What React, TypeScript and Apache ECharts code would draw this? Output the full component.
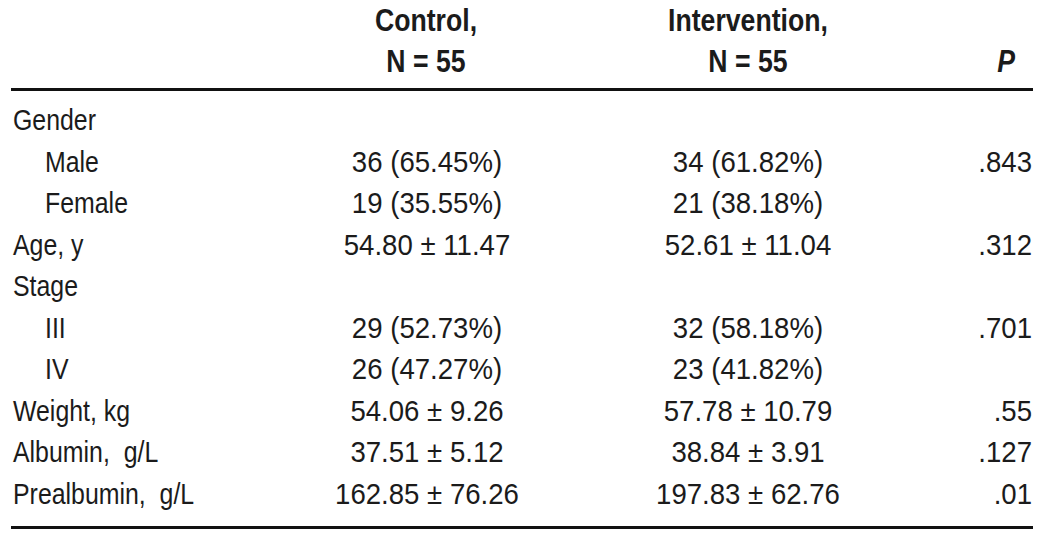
import React, { useEffect, useRef } from "react";
import * as echarts from "echarts";

// ---- Data ----
const rowLabels = [
  "Gender",
  "Male",
  "Female",
  "Age, y",
  "Stage",
  "III",
  "IV",
  "Weight, kg",
  "Albumin,\u00a0 g/L",
  "Prealbumin,\u00a0 g/L",
];
const rowIndented = [false, true, true, false, false, true, true, false, false, false];
const controlValues = [
  "",
  "36 (65.45%)",
  "19 (35.55%)",
  "54.80 ± 11.47",
  "",
  "29 (52.73%)",
  "26 (47.27%)",
  "54.06 ± 9.26",
  "37.51 ± 5.12",
  "162.85 ± 76.26",
];
const interventionValues = [
  "",
  "34 (61.82%)",
  "21 (38.18%)",
  "52.61 ± 11.04",
  "",
  "32 (58.18%)",
  "23 (41.82%)",
  "57.78 ± 10.79",
  "38.84 ± 3.91",
  "197.83 ± 62.76",
];
const pValues = ["", ".843", "", ".312", "", ".701", "", ".55", ".127", ".01"];
const headerControl = ["Control,", "N = 55"];
const headerIntervention = ["Intervention,", "N = 55"];
const headerP = "P";

// ---- Layout (styles, not data) ----
const W = 1042;
const H = 543;
const FONT = "'Liberation Sans', Arial, Helvetica, sans-serif";
const TEXT_COLOR = "#1b1b1b";
const COL_LABEL_X = 13;
const COL_INDENT_X = 45;
const COL_CONTROL_X = 427;
const COL_INTERVENTION_X = 748;
const COL_P_X = 1032;

function textSeries(
  name: string,
  texts: string[],
  xFor: (i: number) => number,
  align: string,
  scaleX: number
) {
  return {
    type: "custom",
    name,
    coordinateSystem: "cartesian2d",
    silent: true,
    data: texts.map((_, i) => [xFor(i), rowLabels[i]]),
    renderItem: (params: any, api: any) => {
      const p = api.coord([api.value(0), rowLabels[params.dataIndex]]);
      return {
        type: "text",
        x: p[0],
        y: p[1],
        scaleX,
        style: {
          text: texts[params.dataIndex],
          fill: TEXT_COLOR,
          fontSize: 30,
          fontFamily: FONT,
          align,
          verticalAlign: "middle",
        },
      };
    },
  };
}

function headerText(text: string, x: number, y: number, align: string, italic = false) {
  return {
    type: "text",
    x,
    y,
    scaleX: 0.86,
    silent: true,
    style: {
      text,
      fill: TEXT_COLOR,
      fontSize: 31,
      fontWeight: "bold",
      fontStyle: italic ? "italic" : "normal",
      fontFamily: FONT,
      align,
      verticalAlign: "middle",
    },
  };
}

export default function App() {
  const ref = useRef<HTMLDivElement>(null);

  useEffect(() => {
    if (!ref.current) return;
    const chart = echarts.init(ref.current, undefined, { renderer: "svg" });
    chart.setOption({
      animation: false,
      backgroundColor: "#ffffff",
      grid: { left: 0, right: 0, top: 99.25, bottom: 28.75 },
      xAxis: { type: "value", min: 0, max: W, show: false },
      yAxis: {
        type: "category",
        data: rowLabels,
        inverse: true,
        show: false,
        boundaryGap: true,
      },
      series: [
        textSeries(
          "labels",
          rowLabels,
          (i) => (rowIndented[i] ? COL_INDENT_X : COL_LABEL_X),
          "left",
          0.83
        ),
        textSeries("control", controlValues, () => COL_CONTROL_X, "center", 0.92),
        textSeries("intervention", interventionValues, () => COL_INTERVENTION_X, "center", 0.92),
        textSeries("p", pValues, () => COL_P_X, "right", 0.92),
      ],
      graphic: [
        headerText(headerControl[0], 426, 20, "center"),
        headerText(headerControl[1], 426, 61, "center"),
        headerText(headerIntervention[0], 748, 20, "center"),
        headerText(headerIntervention[1], 748, 61, "center"),
        headerText(headerP, 1015, 61, "right", true),
        {
          type: "line",
          silent: true,
          shape: { x1: 11, y1: 89.5, x2: 1033, y2: 89.5 },
          style: { stroke: "#111111", lineWidth: 3 },
        },
        {
          type: "line",
          silent: true,
          shape: { x1: 11, y1: 527.5, x2: 1033, y2: 527.5 },
          style: { stroke: "#111111", lineWidth: 3 },
        },
      ],
    });
    return () => chart.dispose();
  }, []);

  return (
    <div
      ref={ref}
      style={{ position: "absolute", left: 0, top: 0, width: W, height: H, background: "#fff" }}
    />
  );
}
